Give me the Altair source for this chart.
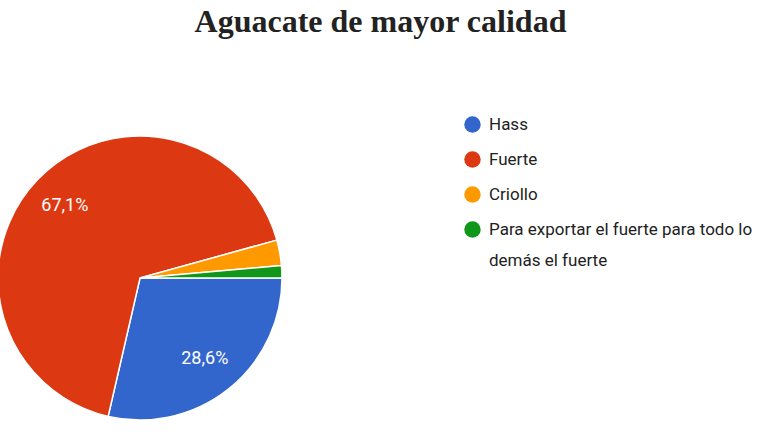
import math
import altair as alt
import pandas as pd

categories = ["Hass", "Fuerte", "Criollo", "Para exportar el fuerte para todo lo demás el fuerte"]
percentages = [28.6, 67.1, 2.9, 1.4]
colors = ["#3366cc", "#dc3912", "#ff9900", "#109618"]

df = pd.DataFrame({"cat": categories, "pct": percentages, "idx": list(range(len(categories)))})

CX, CY, R = 140, 218, 142
theta_enc = alt.Theta("pct:Q", stack=True,
                      scale=alt.Scale(range=[math.pi / 2, math.pi / 2 + 2 * math.pi]))

long_label = categories[3]
label_expr = (
    f"datum.label == '{long_label}' ? ['Para exportar el fuerte para todo lo', 'demás el fuerte'] : datum.label"
)

base = alt.Chart(df).encode(
    theta=theta_enc,
    order=alt.Order("idx:Q", sort="ascending"),
)

arcs = base.mark_arc(radius=R, stroke="white", strokeWidth=1.5).encode(
    x=alt.value(CX),
    y=alt.value(CY),
    color=alt.Color(
        "cat:N",
        sort=categories,
        scale=alt.Scale(domain=categories, range=colors),
        legend=alt.Legend(
            title=None,
            orient="none",
            legendX=464,
            legendY=56,
            symbolType="circle",
            symbolSize=270,
            symbolStrokeWidth=0,
            labelFont="Roboto",
            labelFontSize=17,
            labelColor="#222222",
            labelOffset=8,
            labelLimit=400,
            rowPadding=17,
            padding=0,
            labelExpr=label_expr,
        ),
    ),
)

labels = base.transform_calculate(
    lbl="datum.pct > 5 ? replace(format(datum.pct, '.1f'), '.', ',') + '%' : ''"
).mark_text(radius=104, font="Roboto", fontSize=18, color="white").encode(
    x=alt.value(CX),
    y=alt.value(CY),
    text="lbl:N",
)

chart = alt.layer(arcs, labels).properties(
    width=761,
    height=381,
    autosize=alt.AutoSizeParams(type="none"),
    padding={"left": 0, "top": 60, "right": 0, "bottom": 0},
    title=alt.TitleParams(
        "Aguacate de mayor calidad",
        font="Liberation Serif",
        fontSize=32,
        fontWeight="bold",
        color="#222222",
        anchor="middle",
        baseline="alphabetic",
        offset=21,
        dy=25,
    ),
).configure(
    style={"guide-label": {"lineHeight": 31}},
    view=alt.ViewConfig(stroke="transparent", strokeWidth=0),
)

chart.save("out.html", embed_options={"renderer": "svg", "actions": False})
